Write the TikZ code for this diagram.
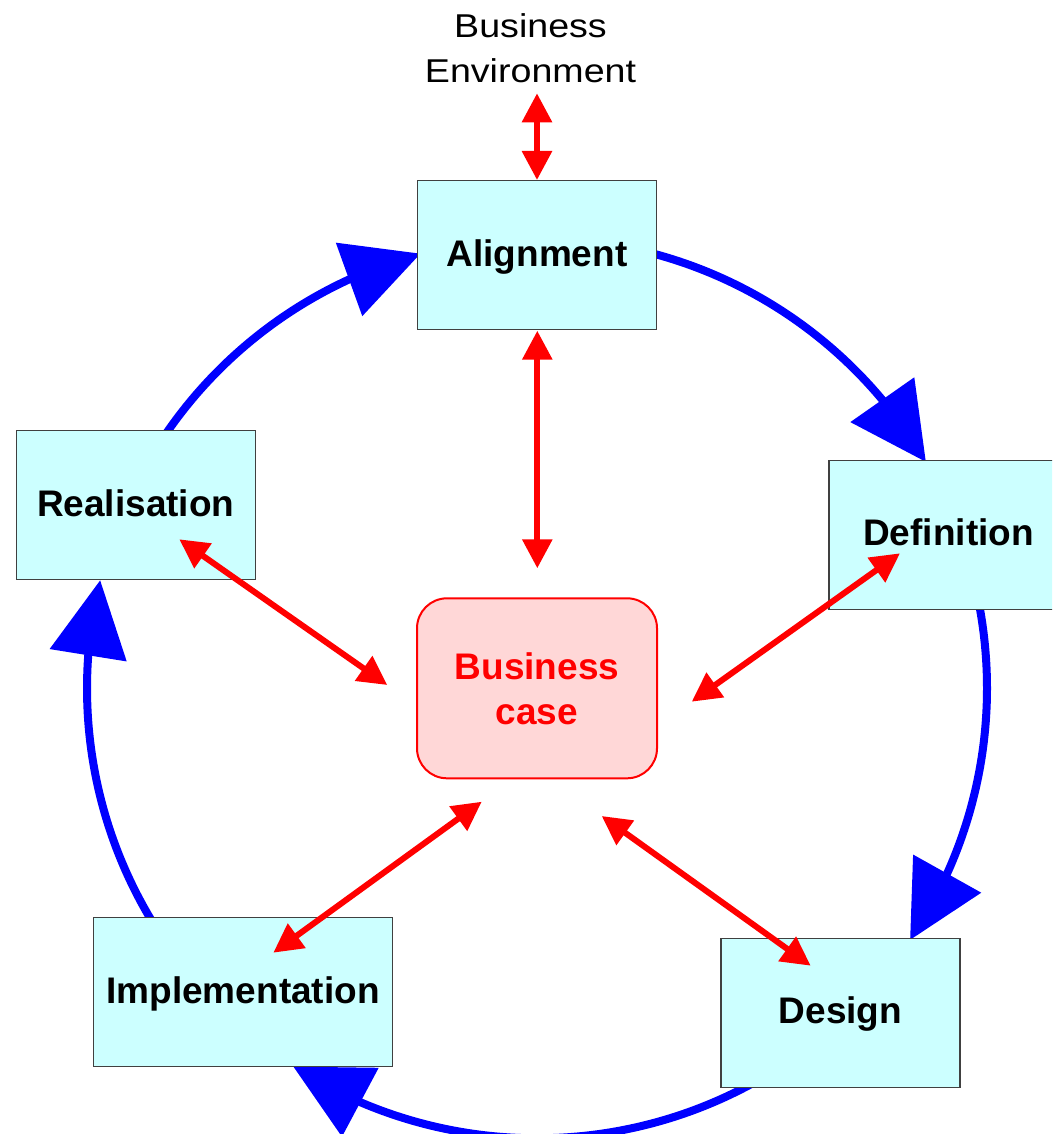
\documentclass[tikz,border=0pt]{standalone}
\usepackage{fontspec}
\setmainfont{Liberation Sans}
\newfontfamily\envfont[FakeStretch=1.14]{Liberation Sans}
\usetikzlibrary{arrows.meta,bending}
\definecolor{boxfill}{HTML}{CCFFFF}
\definecolor{bcfill}{HTML}{FFD7D7}
\definecolor{myblue}{HTML}{0000FF}
\definecolor{myred}{HTML}{FF0000}
\begin{document}
\begin{tikzpicture}[x=1pt,y=-1pt,
  stage/.style={draw=black!75, line width=1.2pt, fill=boxfill,
    minimum width=239pt, minimum height=149pt, inner sep=0pt,
    text height=27pt, text depth=5pt,
    font=\fontsize{37}{45}\selectfont\bfseries, text=black},
  bcase/.style={draw=myred, line width=2pt, fill=bcfill, rounded corners=30pt,
    minimum width=240pt, minimum height=180pt, inner sep=0pt, align=center,
    font=\fontsize{37}{45}\selectfont\bfseries, text=myred},
  envtext/.style={inner sep=0pt, align=center,
    font=\envfont\fontsize{33}{45}\selectfont, text=black},
  cyclearrow/.style={draw=myblue, line width=8pt,
    -{Triangle[length=76pt,width=76pt,flex]}},
  linkarrow/.style={draw=myred, line width=6pt,
    {Triangle[length=29pt,width=29pt]}-{Triangle[length=29pt,width=29pt]}},
]
\clip (0,0) rectangle (1052,1134);

% centre of the cycle
\node[bcase] (bc) at (537,688.3) {Business\\case};

% blue cycle arcs (drawn before the stage boxes)
\draw[cyclearrow] ([shift={(-147:450)}]bc.center) arc[start angle=-147, end angle=-105, radius=450];
\draw[cyclearrow] ([shift={(-77:450)}]bc.center) arc[start angle=-77, end angle=-30.2, radius=450];
\draw[cyclearrow] ([shift={(-13:450)}]bc.center) arc[start angle=-13, end angle=34, radius=450];
\draw[cyclearrow] ([shift={(58:450)}]bc.center) arc[start angle=58, end angle=122.8, radius=450];
\draw[cyclearrow] ([shift={(146:450)}]bc.center) arc[start angle=146, end angle=193.9, radius=450];

% stage boxes
\node[stage] (align) at (537,255) {Alignment};
\node[stage] (real) at (135.7,505) {Realisation};
\node[stage] (def) at (948.5,534.7) {Definition};
\node[stage] (des) at (840.5,1012.8) {Design};
\node[stage, minimum width=299pt] (impl) at (243,992.2) {Implementation};

\node[envtext] (env) at (530.5,48.7) {Business\\Environment};

% free ends of the red links
\coordinate (envtip) at (537,93.3);
\coordinate (aligntip) at (537,180);
\coordinate (alignlow) at (537.3,330.7);
\coordinate (bctop) at (537.3,568.3);
\coordinate (realtip) at (179.3,539.3);
\coordinate (bcleft) at (387.3,685);
\coordinate (deftip) at (900,553.3);
\coordinate (bcright) at (691.7,701.7);
\coordinate (bclowleft) at (481.7,801.7);
\coordinate (impltip) at (273.3,952.7);
\coordinate (bclowright) at (601.7,816);
\coordinate (destip) at (810.7,965.7);

\draw[linkarrow] (envtip) -- (aligntip);
\draw[linkarrow] (alignlow) -- (bctop);
\draw[linkarrow] (realtip) -- (bcleft);
\draw[linkarrow] (deftip) -- (bcright);
\draw[linkarrow] (bclowleft) -- (impltip);
\draw[linkarrow] (bclowright) -- (destip);
\end{tikzpicture}
\end{document}
